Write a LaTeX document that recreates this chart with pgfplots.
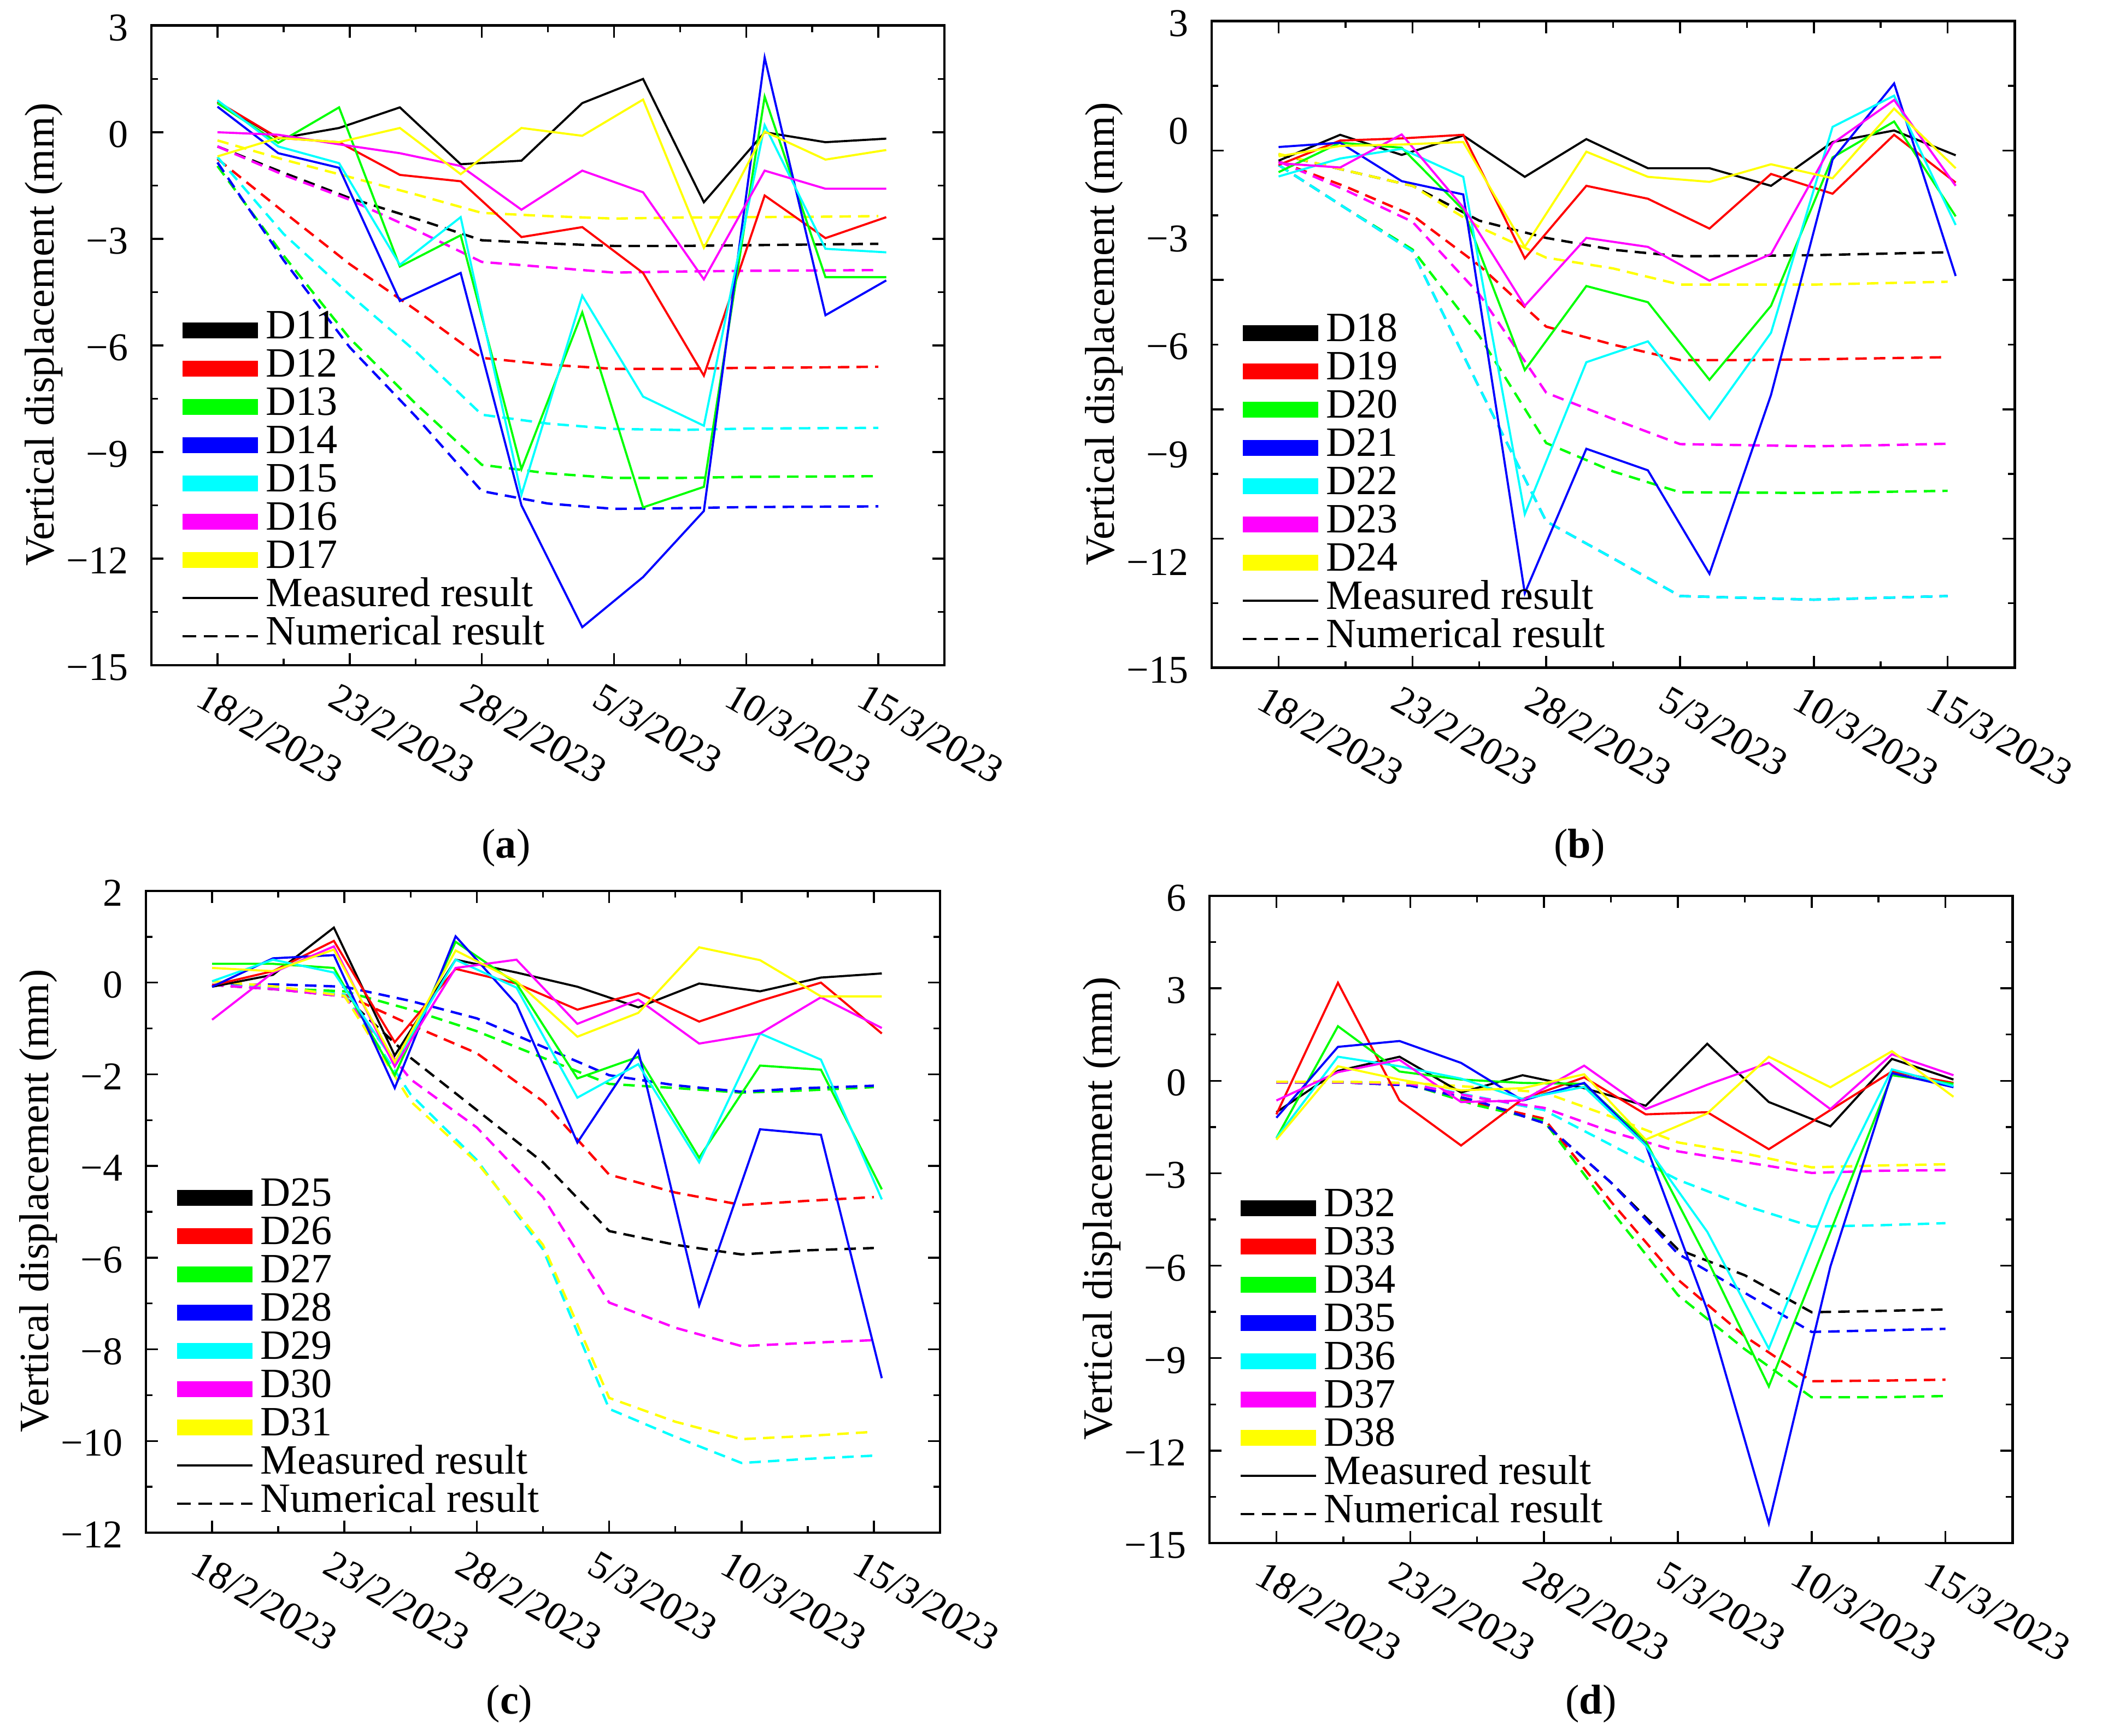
\documentclass[border=0pt]{standalone}
\usepackage{fontspec}
\setmainfont{Liberation Serif}
\usepackage{pgfplots}
\usepackage{pgfplotstable}
\pgfplotsset{compat=1.18}
\definecolor{cyan}{RGB}{0,255,255}
\definecolor{magenta}{RGB}{255,0,255}
\definecolor{yellow}{RGB}{255,255,0}
\definecolor{green}{RGB}{0,255,0}
\definecolor{blue}{RGB}{0,0,255}
\definecolor{red}{RGB}{255,0,0}

\pgfplotstableread{
x     A     B     C      D      E      F      G
0     0.85  0.86  0.82   0.72   0.9    0.0   -0.68
2.3  -0.18 -0.16 -0.3   -0.59  -0.4   -0.07  -0.16
4.6   0.12 -0.28  0.7   -1.0   -0.87  -0.34  -0.28
6.9   0.7  -1.2  -3.78  -4.75  -3.73  -0.59   0.12
9.2  -0.9  -1.38 -2.9   -3.96  -2.39  -0.95  -1.18
11.5 -0.8  -2.95 -9.48  -10.5  -10.2  -2.18   0.12
13.8  0.82 -2.67 -5.07  -13.93 -4.6   -1.08  -0.1
16.1  1.5  -3.96 -10.56 -12.52 -7.44  -1.69   0.92
18.4 -1.97 -6.85 -9.98  -10.66 -8.26  -4.14  -3.25
20.7  0.0  -1.78  1.0    2.1    0.2   -1.08   0.02
23.0 -0.28 -2.98 -4.08  -5.15  -3.28  -1.59  -0.77
25.3 -0.18 -2.39 -4.08  -4.17  -3.38  -1.59  -0.5
}\Ameas
\pgfplotstableread{
x     A     B     C      D      E      F      G
0    -0.4  -0.75 -0.95  -0.85  -0.7   -0.4   -0.23
2.5  -1.14 -2.24 -3.47  -3.6   -2.86  -1.2   -0.77
5    -1.85 -3.71 -5.8   -6.05  -4.57  -1.9   -1.26
7.5  -2.43 -5.0  -7.64  -8.0   -6.17  -2.75  -1.75
10   -3.04 -6.35 -9.36  -10.1  -7.95  -3.65  -2.27
12.5 -3.13 -6.54 -9.6   -10.45 -8.2   -3.8   -2.36
15   -3.2  -6.66 -9.73  -10.6  -8.35  -3.95  -2.43
17.5 -3.2  -6.66 -9.73  -10.58 -8.38  -3.92  -2.4
20   -3.18 -6.63 -9.7   -10.55 -8.34  -3.9   -2.39
22.5 -3.16 -6.62 -9.69  -10.54 -8.33  -3.89  -2.38
25   -3.14 -6.6  -9.68  -10.53 -8.32  -3.88  -2.36
}\Anum
\pgfplotstableread{
x     A     B     C     D      E      F     G
0    -0.88 -1.0  -1.2  -0.5   -1.32  -0.95 -0.76
2.3  -0.16 -0.32 -0.38 -0.38  -0.82  -1.07 -0.47
4.6  -0.72 -0.26 -0.52 -1.45  -0.55  -0.15 -0.43
6.9  -0.18 -0.16 -2.25 -1.82  -1.33  -2.18 -0.36
9.2  -1.33 -3.6  -6.71 -12.92 -10.72 -4.92 -3.28
11.5 -0.28 -1.58 -4.37 -8.9   -6.49  -3.03 -0.63
13.8 -1.09 -1.94 -4.82 -9.5   -5.91  -3.28 -1.33
16.1 -1.09 -2.77 -6.98 -12.38 -8.07  -4.22 -1.47
18.4 -1.58 -1.25 -4.92 -7.4   -5.67  -3.48 -0.98
20.7 -0.36 -1.8  -0.79 -0.85   0.06  -0.4  -1.37
23.0 -0.04 -0.16  0.21  1.27   0.93   0.81  0.57
25.3 -0.73 -1.49 -2.43 -4.09  -2.67  -1.58 -1.09
}\Bmeas
\pgfplotstableread{
x     A     B     C      D      E      F     G
0    -0.7  -0.9  -1.0   -1.0   -1.0   -0.9  -0.69
2.5  -1.15 -1.6  -2.2   -2.2   -2.2   -1.7  -1.15
5    -1.58 -2.4  -3.35  -3.4   -3.4   -2.58 -1.58
7.5  -2.55 -3.8  -5.76  -7.2   -7.2   -4.6  -2.73
10   -3.03 -5.5  -8.74  -10.92 -10.92 -7.34 -3.58
12.5 -3.36 -6.0  -9.53  -11.95 -11.95 -8.07 -3.88
15   -3.54 -6.43 -10.11 -13.0  -13.0  -8.77 -4.33
17.5 -3.53 -6.43 -10.12 -13.05 -13.05 -8.8  -4.33
20   -3.51 -6.41 -10.13 -13.1  -13.1  -8.83 -4.33
22.5 -3.47 -6.38 -10.1  -13.05 -13.05 -8.8  -4.29
25   -3.43 -6.35 -10.07 -13.0  -13.0  -8.76 -4.25
}\Bnum
\pgfplotstableread{
x     A     B     C     D     E     F     G
0    -0.09 -0.06  0.41 -0.09  0.03 -0.81  0.32
2.3   0.17  0.25  0.41  0.53  0.5   0.22  0.25
4.6   1.2   0.91  0.32  0.6   0.22  0.79  0.72
6.9  -1.59 -1.3  -2.02 -2.3  -1.75 -1.83 -1.73
9.2   0.5   0.3   0.89  1.01  0.5   0.32  0.7
11.5  0.22 -0.02 -0.02 -0.47 -0.11  0.5   0.03
13.8 -0.09 -0.59 -2.09 -3.49 -2.51 -0.9  -1.18
16.1 -0.54 -0.23 -1.62 -1.49 -1.78 -0.37 -0.66
18.4 -0.02 -0.85 -3.82 -7.04 -3.92 -1.33  0.77
20.7 -0.19 -0.4  -1.81 -3.2  -1.11 -1.11  0.49
23.0  0.11  0.0  -1.9  -3.32 -1.68 -0.32 -0.3
25.3  0.2  -1.11 -4.51 -8.63 -4.73 -0.99 -0.3
}\Cmeas
\pgfplotstableread{
x     A     B     C     D     E      F     G
0    -0.05 -0.05 -0.05 -0.06 -0.05  -0.05  0.03
2.5  -0.15 -0.13 -0.13 -0.04 -0.12  -0.15 -0.09
5    -0.3  -0.26 -0.19 -0.09 -0.26  -0.3  -0.29
7.5  -1.64 -0.92 -0.59 -0.4  -2.44  -2.11 -2.59
10   -2.78 -1.54 -1.06 -0.78 -3.87  -3.16 -3.92
12.5 -3.92 -2.59 -1.64 -1.4  -5.82  -4.68 -5.72
15   -5.42 -4.19 -2.21 -2.02 -9.3   -6.98 -9.06
17.5 -5.72 -4.58 -2.3  -2.24 -9.91  -7.53 -9.58
20   -5.93 -4.85 -2.4  -2.38 -10.48 -7.93 -9.96
22.5 -5.84 -4.76 -2.35 -2.3  -10.39 -7.86 -9.89
25   -5.79 -4.68 -2.28 -2.25 -10.32 -7.8  -9.8
}\Cnum
\pgfplotstableread{
x     A     B     C     D      E     F     G
0    -1.02 -1.09 -1.86 -1.2   -1.86 -0.64 -1.91
2.3   0.32  3.18  1.77  1.1    0.78  0.28  0.47
4.6   0.78 -0.64  0.3   1.29   0.47  0.68  0.04
6.9  -0.38 -2.1   0.04  0.58   0.07 -0.69 -0.31
9.2   0.18 -0.59 -0.07 -0.64  -0.59 -0.64 -0.24
11.5 -0.24  0.11 -0.1  -0.07  -0.2   0.49  0.21
13.8 -0.81 -1.09 -1.96 -2.08  -2.1  -0.92 -1.91
16.1  1.2  -1.02 -5.8  -7.44  -4.9  -0.13 -1.06
18.4 -0.69 -2.22 -9.92 -14.36 -8.69  0.58  0.78
20.7 -1.48 -0.95 -4.9  -6.03  -3.7  -0.92 -0.21
23.0  0.71  0.3   0.18  0.25   0.37  0.86  0.96
25.3  0.04 -0.07 -0.1  -0.21  -0.17  0.18 -0.52
}\Dmeas
\pgfplotstableread{
x     A     B     C      D     E     F     G
0    -0.05 -0.05 -0.05  -0.05 -0.05 -0.05 -0.03
2.5  -0.05 -0.05 -0.05  -0.05 -0.05 -0.05 -0.03
5    -0.15 -0.1  -0.12  -0.15 -0.1  -0.1  -0.07
7.5  -0.66 -0.73 -0.8   -0.66 -0.52 -0.55 -0.21
10   -1.37 -1.23 -1.3   -1.37 -0.95 -0.88 -0.38
12.5 -3.3  -3.92 -4.2   -3.3  -2.08 -1.65 -1.16
15   -5.47 -6.45 -6.95  -5.61 -3.21 -2.29 -2.0
17.5 -6.31 -8.29 -8.71  -6.88 -4.05 -2.64 -2.36
20   -7.51 -9.75 -10.27 -8.15 -4.73 -2.99 -2.81
22.5 -7.47 -9.73 -10.27 -8.1  -4.69 -2.92 -2.75
25   -7.42 -9.7  -10.23 -8.05 -4.62 -2.9  -2.71
}\Dnum

\pgfplotsset{
  panel/.style={
    scale only axis, anchor=north west,
    xmin=-2.5, xmax=27.5,
    xtick={0,5,10,15,20,25},
    xticklabels={18/2/2023,23/2/2023,28/2/2023,5/3/2023,10/3/2023,15/3/2023},
    minor x tick num=1,
    tick align=inside,
    major tick length=0.22cm, minor tick length=0.12cm,
    axis line style={line width=1.4pt},
    every tick/.style={black, line width=1.0pt},
    tick label style={font=\fontsize{20.5}{24}\selectfont},
    xticklabel style={xshift=-0.19cm, yshift=-0.30cm, rotate=-30, anchor=north west, inner sep=0pt},
    yticklabel style={anchor=east, inner sep=0pt, xshift=-0.42cm, yshift=-0.04cm},
    ylabel={Vertical displacement (mm)},
    every axis y label/.style={at={(axis description cs:0,0.5)}, xshift=-1.97cm, yshift=0.2cm, rotate=90, anchor=center},
    legend cell align=left,
    legend image code/.code={\draw[##1] (0cm,0cm) -- (1.38cm,0cm);},
    legend style={at={(axis description cs:0,0)}, anchor=south west,
      xshift=0.42cm, yshift=0.17cm, draw=none, fill=none, inner sep=0pt,
      row sep=0pt,
      nodes={inner sep=0pt, text height=0.5cm, text depth=0.2cm},
      /tikz/every even column/.append style={column sep=0.13cm}},
  },
  meas/.style={line width=1.1pt, forget plot},
  num/.style={line width=1.25pt, dash pattern=on 0.21cm off 0.13cm, forget plot},
  bar/.style={line width=0.29cm},
}

\newcommand{\legendset}[7]{%
  \addlegendimage{bar, black}\addlegendentry{#1}
  \addlegendimage{bar, red}\addlegendentry{#2}
  \addlegendimage{bar, green}\addlegendentry{#3}
  \addlegendimage{bar, blue}\addlegendentry{#4}
  \addlegendimage{bar, cyan}\addlegendentry{#5}
  \addlegendimage{bar, magenta}\addlegendentry{#6}
  \addlegendimage{bar, yellow}\addlegendentry{#7}
  \addlegendimage{black, line width=1.1pt}\addlegendentry{Measured result}
  \addlegendimage{black, line width=1.1pt, dash pattern=on 0.25cm off 0.14cm}\addlegendentry{Numerical result}
}
\newcommand{\plotset}[2]{%
  \addplot[num, black] table[x=x,y=A] {#2};
  \addplot[num, red] table[x=x,y=B] {#2};
  \addplot[num, green] table[x=x,y=C] {#2};
  \addplot[num, blue] table[x=x,y=D] {#2};
  \addplot[num, cyan] table[x=x,y=E] {#2};
  \addplot[num, magenta] table[x=x,y=F] {#2};
  \addplot[num, yellow] table[x=x,y=G] {#2};
  \addplot[meas, black] table[x=x,y=A] {#1};
  \addplot[meas, red] table[x=x,y=B] {#1};
  \addplot[meas, green] table[x=x,y=C] {#1};
  \addplot[meas, blue] table[x=x,y=D] {#1};
  \addplot[meas, cyan] table[x=x,y=E] {#1};
  \addplot[meas, magenta] table[x=x,y=F] {#1};
  \addplot[meas, yellow] table[x=x,y=G] {#1};
}

\begin{document}
\fontsize{21.7}{26}\selectfont
\begin{tikzpicture}
\path[use as bounding box] (0,0) rectangle (38.68,31.76);

% (a)
\begin{axis}[panel, at={(2.77cm,31.29cm)}, width=14.51cm, height=11.70cm,
  ymin=-15, ymax=3, ytick={-15,-12,-9,-6,-3,0,3},
  yticklabels={−15,−12,−9,−6,−3,0,3}, minor y tick num=1]
\legendset{D11}{D12}{D13}{D14}{D15}{D16}{D17}
\plotset{\Ameas}{\Anum}
\end{axis}

% (b)
\begin{axis}[panel, at={(22.17cm,31.37cm)}, width=14.69cm, height=11.83cm,
  ymin=-15, ymax=3,
  ytick={-0.6,-4.2,-7.8,-11.4},
  yticklabels={\mbox{},\mbox{},\mbox{},\mbox{}},
  minor ytick={1.2,-2.4,-6,-9.6,-13.2},
  extra y ticks={-15,-12,-9,-6,-3,0,3},
  extra y tick labels={−15,−12,−9,−6,−3,0,3},
  extra y tick style={major tick length=0pt}]
\legendset{D18}{D19}{D20}{D21}{D22}{D23}{D24}
\plotset{\Bmeas}{\Bnum}
\end{axis}

% (c)
\begin{axis}[panel, at={(2.67cm,15.46cm)}, width=14.53cm, height=11.74cm,
  ymin=-12, ymax=2, ytick={-12,-10,-8,-6,-4,-2,0,2},
  yticklabels={−12,−10,−8,−6,−4,−2,0,2}, minor y tick num=1]
\legendset{D25}{D26}{D27}{D28}{D29}{D30}{D31}
\plotset{\Cmeas}{\Cnum}
\end{axis}

% (d)
\begin{axis}[panel, at={(22.13cm,15.37cm)}, width=14.69cm, height=11.84cm,
  ymin=-15, ymax=6, ytick={-15,-12,-9,-6,-3,0,3,6},
  yticklabels={−15,−12,−9,−6,−3,0,3,6}, minor y tick num=1]
\legendset{D32}{D33}{D34}{D35}{D36}{D37}{D38}
\plotset{\Dmeas}{\Dnum}
\end{axis}

\node at (9.26,16.25) {(\textbf{a})};
\node at (28.90,16.25) {(\textbf{b})};
\node at (9.32,0.59) {(\textbf{c})};
\node at (29.11,0.59) {(\textbf{d})};
\end{tikzpicture}
\end{document}
